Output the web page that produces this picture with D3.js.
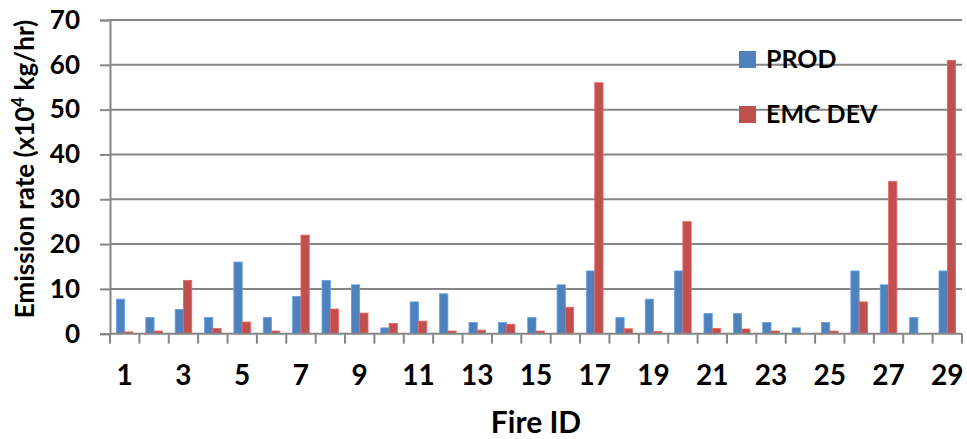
<!DOCTYPE html>
<html>
<head>
<meta charset="utf-8">
<script src="https://cdn.jsdelivr.net/npm/d3@7"></script>
<style>
  html, body { margin: 0; padding: 0; background: #fff; }
  svg { display: block; font-family: "Lato", "Open Sans", sans-serif; font-weight: 700; }
</style>
</head>
<body>
<svg id="chart" width="967" height="439"></svg>
<script>
// Fire IDs along the x axis
const fireIds = d3.range(1, 30);
// Emission rates (x10^4 kg/hr) per fire
const prodValues = [7.7, 3.6, 5.4, 3.6, 16, 3.6, 8.3, 11.9, 10.9, 1.3,
                    7.1, 8.9, 2.5, 2.5, 3.6, 10.9, 14, 3.6, 7.7, 14,
                    4.5, 4.5, 2.5, 1.3, 2.5, 14, 10.9, 3.6, 14];
const emcDevValues = [0.4, 0.6, 11.9, 1.2, 2.6, 0.6, 22, 5.5, 4.6, 2.3,
                      2.8, 0.6, 0.8, 2.1, 0.6, 5.9, 56, 1.1, 0.5, 25,
                      1.2, 1.05, 0.6, 0, 0.6, 7.1, 34, 0, 61];
const seriesNames = ["PROD", "EMC DEV"];
const seriesColors = ["#4F81BD", "#C0504D"];
const yTicks = [0, 10, 20, 30, 40, 50, 60, 70];
const xTickLabels = fireIds.filter(d => d % 2 === 1);

const svg = d3.select("#chart");
const plotLeft = 110, plotRight = 962, plotTop = 20, plotBottom = 333.7;
const gridColor = "#868686";

const x0 = d3.scaleBand().domain(fireIds).range([plotLeft, plotRight])
  .paddingInner(0.435).paddingOuter(0.2175);
const x1 = d3.scaleBand().domain(seriesNames).range([0, x0.bandwidth()]);
const y = d3.scaleLinear().domain([0, 70]).range([plotBottom, plotTop]);

// horizontal gridlines
svg.append("g").selectAll("line").data(yTicks.slice(1)).join("line")
  .attr("x1", plotLeft).attr("x2", plotRight)
  .attr("y1", d => y(d)).attr("y2", d => y(d))
  .attr("stroke", gridColor).attr("stroke-width", 2);

// y axis
const yAxis = svg.append("g").attr("transform", `translate(${plotLeft},0)`)
  .call(d3.axisLeft(y).tickValues(yTicks).tickSize(10).tickPadding(20));
yAxis.select(".domain").attr("stroke", gridColor).attr("stroke-width", 2);
yAxis.selectAll(".tick line").attr("stroke", gridColor).attr("stroke-width", 2);
yAxis.selectAll(".tick text").attr("font-size", 26).attr("font-weight", 700)
  .attr("font-family", "Lato, sans-serif").attr("fill", "#000");

// bars
const rows = fireIds.map((id, i) => ({ id, vals: [prodValues[i], emcDevValues[i]] }));
const groups = svg.append("g").selectAll("g").data(rows).join("g")
  .attr("transform", d => `translate(${x0(d.id)},0)`);
groups.selectAll("rect")
  .data(d => d.vals.map((v, k) => ({ key: seriesNames[k], v, k })))
  .join("rect")
  .attr("x", d => x1(d.key))
  .attr("width", x1.bandwidth())
  .attr("y", d => y(d.v))
  .attr("height", d => y(0) - y(d.v))
  .attr("fill", d => seriesColors[d.k])
  .attr("stroke", d => d.v > 0 ? d3.color(seriesColors[d.k]).brighter(0.6) : "none")
  .attr("stroke-width", 0.8);

// x axis: baseline, ticks between categories, labels on odd IDs
svg.append("line").attr("x1", plotLeft).attr("x2", plotRight)
  .attr("y1", plotBottom).attr("y2", plotBottom)
  .attr("stroke", gridColor).attr("stroke-width", 2);
const step = x0.step();
svg.append("g").selectAll("line").data(d3.range(0, fireIds.length + 1)).join("line")
  .attr("x1", d => plotLeft + d * step).attr("x2", d => plotLeft + d * step)
  .attr("y1", plotBottom).attr("y2", plotBottom + 10)
  .attr("stroke", gridColor).attr("stroke-width", 2);
svg.append("g").selectAll("text").data(xTickLabels).join("text")
  .attr("x", d => x0(d) + x0.bandwidth() / 2)
  .attr("y", 385)
  .attr("text-anchor", "middle")
  .attr("font-size", 28)
  .text(d => d);

// axis titles
svg.append("text").attr("x", 536).attr("y", 433)
  .attr("text-anchor", "middle").attr("font-size", 30).text("Fire ID");

const yTitle = svg.append("text")
  .attr("transform", "translate(34,169) rotate(-90)")
  .attr("text-anchor", "middle").attr("font-size", 20);
yTitle.append("tspan").text("Emission rate (x10");
const sup = yTitle.append("tspan").attr("font-size", 13).attr("dy", -8).text("4");
yTitle.append("tspan").attr("dy", 8).text(" kg/hr)");
// size the vertical title so it spans the plot height
const titleLen = yTitle.node().getComputedTextLength();
const titleSize = Math.min(26, 20 * 300 / titleLen);
yTitle.attr("font-size", titleSize);
sup.attr("font-size", titleSize * 0.65).attr("dy", -titleSize * 0.4);
yTitle.select("tspan:last-child").attr("dy", titleSize * 0.4);

// legend
const legend = svg.append("g").selectAll("g").data(seriesNames).join("g")
  .attr("transform", (d, i) => `translate(739,${51 + i * 55})`);
legend.append("rect").attr("width", 17).attr("height", 17)
  .attr("fill", (d, i) => seriesColors[i]);
legend.append("text").attr("x", 27).attr("y", 17)
  .attr("font-size", 25).text(d => d);
</script>
</body>
</html>
